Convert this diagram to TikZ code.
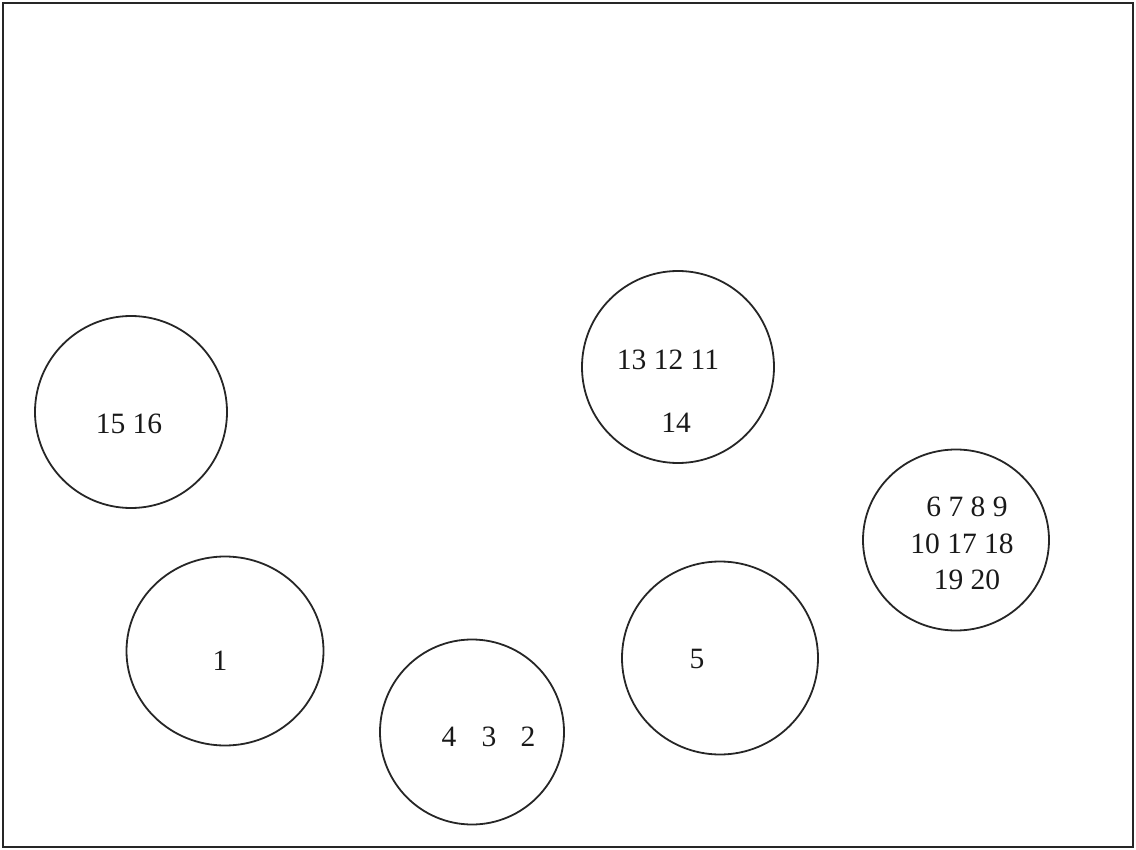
\documentclass[tikz,border=0pt]{standalone}
\usepackage{fontspec}
\setmainfont{Liberation Serif}
\usetikzlibrary{shapes.geometric}
\begin{document}
\begin{tikzpicture}[x=1pt,y=-1pt,
  group/.style={draw=black!85, line width=1.8pt, ellipse, inner sep=0pt},
  num/.style={anchor=base, inner sep=0pt, font=\fontsize{29.5}{34}\selectfont, text=black!90}]
\useasboundingbox (0,0) rectangle (1136,850);
\node[draw=black!85, line width=2.6pt, minimum width=1130pt, minimum height=844pt, inner sep=0pt] (frame) at (568,425) {};
% circles
\node[group, minimum width=192pt, minimum height=192pt] (g1516) at (131,412) {};
\node[group, minimum width=192pt, minimum height=192pt] (g1114) at (678,367) {};
\node[group, minimum width=186pt, minimum height=181pt] (g6to20) at (956,540) {};
\node[group, minimum width=197pt, minimum height=189pt] (g1) at (225,651) {};
\node[group, minimum width=184pt, minimum height=185pt] (g234) at (472,732) {};
\node[group, minimum width=196pt, minimum height=193pt] (g5) at (720,658) {};
% labels
\node[num] (t1516) at (129,434) {15 16};
\node[num] (t131211) at (668,370) {13 12 11};
\node[num] (t14) at (676,432) {14};
\node[num] (t6789) at (967,516) {6 7 8 9};
\node[num] (t101718) at (962,553) {10 17 18};
\node[num] (t1920) at (967,589) {19 20};
\node[num] (t1) at (220,670) {1};
\node[num] (t4) at (449,746) {4};
\node[num] (t3) at (489,746) {3};
\node[num] (t2) at (528,746) {2};
\node[num] (t5) at (697,668) {5};
\end{tikzpicture}
\end{document}
